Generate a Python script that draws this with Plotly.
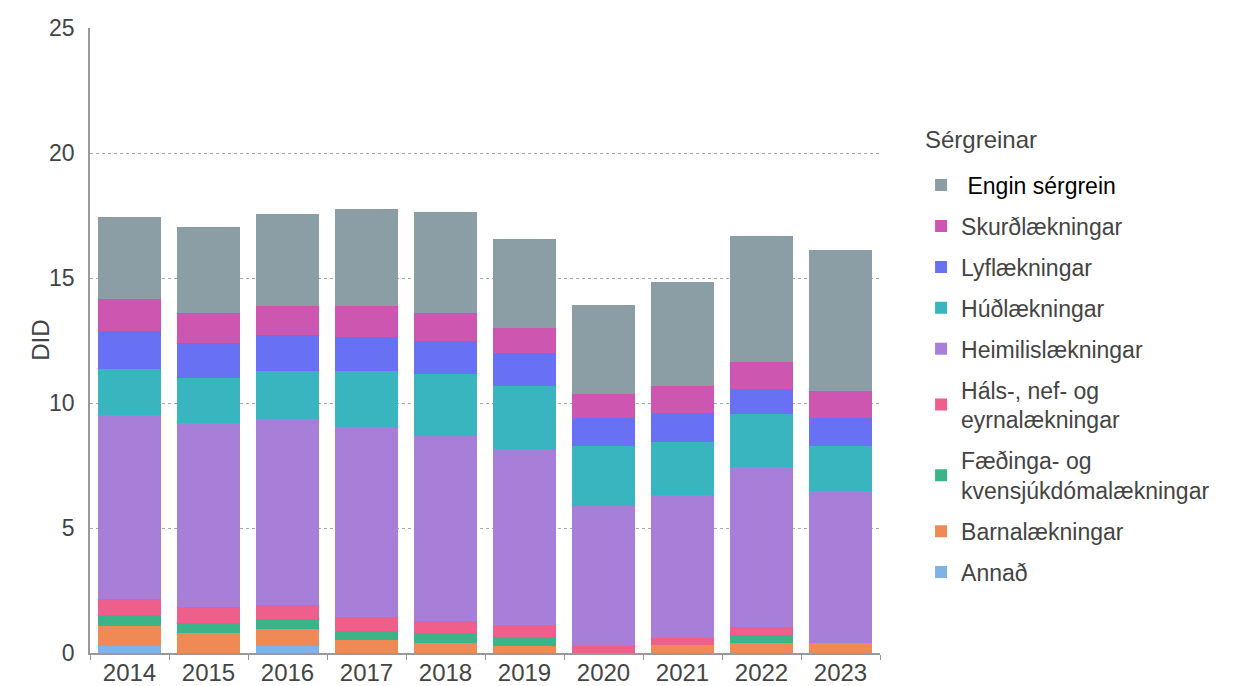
import plotly.graph_objects as go

years = ["2014", "2015", "2016", "2017", "2018", "2019", "2020", "2021", "2022", "2023"]

annad = [0.30, 0.00, 0.30, 0.00, 0.00, 0.00, 0.00, 0.00, 0.00, 0.00]
barna = [0.80, 0.80, 0.67, 0.54, 0.40, 0.30, 0.00, 0.33, 0.41, 0.41]
faedinga = [0.44, 0.40, 0.40, 0.36, 0.40, 0.35, 0.00, 0.00, 0.32, 0.00]
hals = [0.62, 0.64, 0.56, 0.54, 0.48, 0.48, 0.30, 0.29, 0.32, 0.00]
heimilis = [7.36, 7.37, 7.45, 7.62, 7.42, 7.02, 5.59, 5.72, 6.41, 6.06]
hud = [1.83, 1.79, 1.92, 2.24, 2.46, 2.55, 2.41, 2.11, 2.09, 1.80]
lyf = [1.55, 1.39, 1.42, 1.36, 1.34, 1.29, 1.12, 1.15, 1.02, 1.13]
skurd = [1.26, 1.21, 1.16, 1.22, 1.10, 1.01, 0.93, 1.07, 1.06, 1.10]
engin = [3.30, 3.45, 3.67, 3.90, 4.03, 3.57, 3.56, 4.16, 5.04, 5.63]

series = [
    ("Annað", annad, "#7fb2e6"),
    ("Barnalækningar", barna, "#ef8a56"),
    ("Fæðinga- og<br>kvensjúkdómalækningar", faedinga, "#3db38a"),
    ("Háls-, nef- og<br>eyrnalækningar", hals, "#ef5f8c"),
    ("Heimilislækningar", heimilis, "#a77ed8"),
    ("Húðlækningar", hud, "#39b5c0"),
    ("Lyflækningar", lyf, "#6871f3"),
    ("Skurðlækningar", skurd, "#cc56b0"),
    ("<span style='color:#000000'>&nbsp;Engin sérgrein</span>", engin, "#8b9ea6"),
]

fig = go.Figure()
n = len(series)
for i, (name, vals, col) in enumerate(series):
    fig.add_trace(go.Bar(
        x=years, y=vals, name=name, marker_color=col,
        marker_line_width=0, legendgroup=f"g{i}", legendrank=100 + (n - i),
    ))

fig.update_layout(
    width=1243, height=686,
    barmode="stack", bargap=0.215,
    plot_bgcolor="white", paper_bgcolor="white",
    margin=dict(l=90, r=363, t=28, b=33),
    font=dict(family="Liberation Sans, Arial, sans-serif", size=23, color="#444444"),
    legend=dict(
        traceorder="grouped", tracegroupgap=8,
        x=1.052, xanchor="left", y=0.783, yanchor="top",
        font=dict(size=23, color="#444444"),
    ),
    yaxis=dict(
        range=[0, 25], dtick=5, automargin=False,
        showgrid=True, gridcolor="#aaaaaa", griddash="dot", gridwidth=1,
        showline=True, linecolor="#999999", linewidth=1.5,
        zeroline=False,
        ticklabelstandoff=9,
        tickfont=dict(size=23, color="#444444"),
    ),
    xaxis=dict(
        automargin=False,
        showline=True, linecolor="#999999", linewidth=1.5,
        ticks="outside", tickson="boundaries", ticklen=5, tickcolor="#999999",
        ticklabelstandoff=-3,
        tickfont=dict(size=24, color="#444444"),
    ),
    annotations=[
        dict(
            text="DID", xref="paper", yref="paper", x=-0.063, y=0.5,
            xanchor="center", yanchor="middle", textangle=-90, showarrow=False,
            font=dict(size=24, color="#444444"),
        ),
        dict(
            text="Sérgreinar", xref="paper", yref="paper", x=1.055, y=0.821,
            xanchor="left", yanchor="middle", showarrow=False,
            font=dict(size=24, color="#444444"),
        ),
    ],
)

fig.write_html(
    "out.html",
    config={"displayModeBar": False},
    post_script="document.body.style.margin='0';",
)
